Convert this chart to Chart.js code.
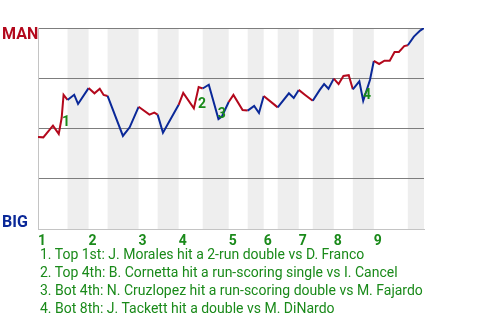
<!DOCTYPE html>
<html>
<head>
<meta charset="utf-8">
<script src="https://cdn.jsdelivr.net/npm/chart.js@4.4.1/dist/chart.umd.min.js"></script>
<style>
  body { margin: 0; background: #fff; }
  #wrap { position: relative; width: 480px; height: 320px; }
  #wp { position: absolute; left: 0; top: 0; }
  #notes {
    position: absolute; left: 40px; top: 245px;
    font: 14px Roboto, sans-serif; line-height: 18px; color: #1a8a1a;
    white-space: nowrap;
  }
</style>
</head>
<body>
<div id="wrap">
  <canvas id="wp" width="480" height="250"></canvas>
  <div id="notes"></div>
</div>
<script>
// plate appearance index and MAN win probability after each one
const evX = [0, 1.1, 3.1, 4.3, 4.9, 5.3, 6.12,
  7.5, 8.3, 10.48,
  11.7, 12.8, 13.6, 14.42,
  17.6, 19.0, 20.85,
  23.1, 24.1, 24.8,
  25.9, 29.15,
  30.1, 32.3, 33.3, 34.13,
  35.4, 37.4, 38.1, 39.52,
  40.5, 42.4, 43.46,
  44.8, 45.8, 46.78,
  49.68,
  52.0, 53.0, 54.04,
  55.3, 56.94,
  58.4, 59.3, 60.2, 61.3,
  62.3, 63.3, 64.4, 65.25,
  66.6, 67.4, 68.8, 69.6,
  70.7, 71.8, 72.9, 73.9, 74.8, 75.9, 76.65,
  77.9, 79.2, 80];
const winProb = [0.458, 0.456, 0.514, 0.473, 0.552, 0.667, 0.642,
  0.668, 0.622, 0.701,
  0.675, 0.698, 0.667, 0.662,
  0.463, 0.506, 0.608,
  0.569, 0.579, 0.569,
  0.479, 0.618,
  0.677, 0.600, 0.706, 0.699,
  0.718, 0.547, 0.559, 0.632,
  0.667, 0.592, 0.589,
  0.612, 0.577, 0.662,
  0.605,
  0.675, 0.652, 0.692,
  0.668, 0.638,
  0.692, 0.721, 0.698, 0.748,
  0.721, 0.761, 0.765, 0.695,
  0.735, 0.638, 0.741, 0.836,
  0.821, 0.837, 0.837, 0.881, 0.881, 0.910, 0.914,
  0.957, 0.987, 1.0];

// half-inning boundaries (top, bottom, top, ...)
const halfStarts = [0, 6.12, 10.48, 14.42, 20.85, 24.8, 29.15, 34.13, 39.52, 43.46,
  46.78, 49.68, 54.04, 56.94, 61.3, 65.25, 69.6, 76.65, 80];
const inningLabels = ["1", "2", "3", "4", "5", "6", "7", "8", "9"];

// key plays
const noteNums = ["1", "2", "3", "4"];
const noteX = [5.8, 34.0, 38.1, 68.2];
const noteY = [0.532, 0.618, 0.570, 0.665];
const noteText = [
  "1. Top 1st: J. Morales hit a 2-run double vs D. Franco",
  "2. Top 4th: B. Cornetta hit a run-scoring single vs I. Cancel",
  "3. Bot 4th: N. Cruzlopez hit a run-scoring double vs M. Fajardo",
  "4. Bot 8th: J. Tackett hit a double vs M. DiNardo"
];
const teams = ["MAN", "BIG"];

const RED = "#b3081c", BLUE = "#0a2898", GREEN = "#1a8a1a";

document.getElementById("notes").innerHTML = noteText.map(t => "<div>" + t + "</div>").join("");

function halfIndex(v) {
  for (let i = 0; i < halfStarts.length - 1; i++) {
    if (v >= halfStarts[i] && v < halfStarts[i + 1]) return i;
  }
  return halfStarts.length - 2;
}

const bands = {
  id: "bands",
  beforeDraw(chart) {
    const { ctx, chartArea: a, scales: { x } } = chart;
    ctx.save();
    ctx.fillStyle = "#eeeeee";
    for (let i = 1; i < halfStarts.length - 1; i += 2) {
      const x0 = x.getPixelForValue(halfStarts[i]);
      const x1 = x.getPixelForValue(halfStarts[i + 1]);
      ctx.fillRect(x0, a.top, x1 - x0, a.bottom - a.top);
    }
    ctx.restore();
  },
  afterDatasetsDraw(chart) {
    const { ctx, chartArea: a, scales: { x, y } } = chart;
    ctx.save();
    ctx.font = "bold 14px Roboto, sans-serif";
    ctx.fillStyle = GREEN;
    ctx.textAlign = "center";
    ctx.textBaseline = "middle";
    noteNums.forEach((n, i) => {
      ctx.fillText(n, x.getPixelForValue(noteX[i]), y.getPixelForValue(noteY[i]));
    });
    ctx.font = "bold 16px Roboto, sans-serif";
    ctx.textAlign = "left";
    ctx.fillStyle = RED;
    ctx.fillText(teams[0], 2, a.top + 7);
    ctx.fillStyle = BLUE;
    ctx.fillText(teams[1], 2, a.bottom - 6);
    ctx.restore();
  }
};

new Chart("wp", {
  type: "line",
  data: {
    datasets: [{
      data: evX.map((v, i) => ({ x: v, y: winProb[i] })),
      borderWidth: 2,
      pointRadius: 0,
      tension: 0,
      segment: {
        borderColor: c => halfIndex((c.p0.parsed.x + c.p1.parsed.x) / 2) % 2 === 0 ? RED : BLUE
      }
    }]
  },
  options: {
    responsive: false,
    animation: false,
    layout: { padding: { top: 28, right: 56 } },
    plugins: { legend: { display: false }, tooltip: { enabled: false } },
    scales: {
      x: {
        type: "linear",
        min: 0,
        max: 80,
        grid: { display: false },
        border: { display: true, color: "#c4c4c4", width: 1 },
        afterBuildTicks: s => { s.ticks = halfStarts.filter((v, i) => i % 2 === 0 && i < 18).map(v => ({ value: v })); },
        afterFit: s => { s.height = 21; },
        ticks: {
          align: "start",
          padding: -4,
          color: GREEN,
          font: { family: "Roboto", size: 14, weight: "bold" },
          callback: (v, i) => inningLabels[i]
        }
      },
      y: {
        min: 0,
        max: 1,
        afterFit: s => { s.width = 38; },
        ticks: { display: false, stepSize: 0.25 },
        border: { display: true, color: "#c4c4c4", width: 1 },
        grid: {
          drawTicks: false,
          lineWidth: 1,
          color: c => c.tick && c.tick.value === 0 ? "#c4c4c4" : "#7d7d7d"
        }
      }
    }
  },
  plugins: [bands]
});
</script>
</body>
</html>
